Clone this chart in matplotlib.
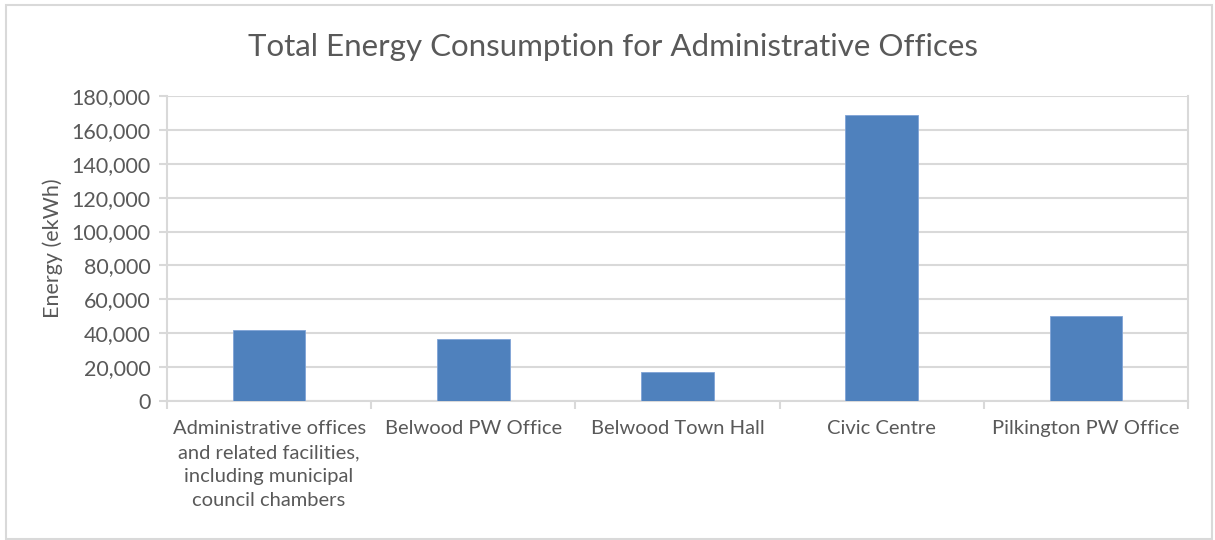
import numpy as np
import matplotlib.pyplot as plt
from matplotlib.patches import Rectangle
from matplotlib.ticker import FuncFormatter

plt.rcParams['font.family'] = ['Lato', 'DejaVu Sans']

# Facilities and their total energy use
facilities = ['Administrative offices\nand related facilities,\nincluding municipal\ncouncil chambers',
              'Belwood PW Office', 'Belwood Town Hall', 'Civic Centre', 'Pilkington PW Office']
energy = [42000, 36500, 17000, 168500, 50000]
y_ticks = list(range(0, 180001, 20000))

text_col = '#595959'
grid_col = '#D9D9D9'

fig = plt.figure(figsize=(12.15, 5.4), dpi=100)
ax = fig.add_axes([167/1215, 1 - 401/540, (1188-167)/1215, (401-96)/540])

x = np.arange(len(facilities))
ax.bar(x, energy, width=0.355, color='#4F81BD', edgecolor='#7FA3D6', linewidth=0.6, zorder=3)

ax.set_xlim(-0.5, len(facilities) - 0.5)
ax.set_ylim(0, 180000)
ax.set_yticks(y_ticks)
ax.yaxis.set_major_formatter(FuncFormatter(lambda v, p: f'{int(v):,}'))
ax.set_xticks(x)
ax.set_xticklabels(facilities, fontsize=14.5, color=text_col, linespacing=1.5, va='top')
ax.set_xticks(np.arange(len(facilities) + 1) - 0.5, minor=True)
ax.tick_params(axis='x', which='major', length=0, pad=14)
ax.tick_params(axis='x', which='minor', length=6, color=grid_col, width=1.5)
ax.tick_params(axis='y', length=6, color=grid_col, width=1.5, labelsize=15.5, labelcolor=text_col, pad=6)

ax.grid(axis='y', color=grid_col, linewidth=1.5, zorder=0)
ax.spines['top'].set_visible(False)
for side in ['left', 'bottom', 'right']:
    ax.spines[side].set_color(grid_col)
    ax.spines[side].set_linewidth(1.5)

ax.set_ylabel('Energy (ekWh)', fontsize=15.5, color=text_col, labelpad=6)
fig.text(613/1215, 1 - 47/540, 'Total Energy Consumption for Administrative Offices',
         fontsize=22.5, color=text_col, ha='center', va='center')

# light frame around the chart area
fig.patches.append(Rectangle((6/1215, 1/540), 1206/1215, 534/540, transform=fig.transFigure,
                             fill=False, edgecolor='#D9D9D9', linewidth=1.5))

fig.savefig('out.png', dpi=100)
